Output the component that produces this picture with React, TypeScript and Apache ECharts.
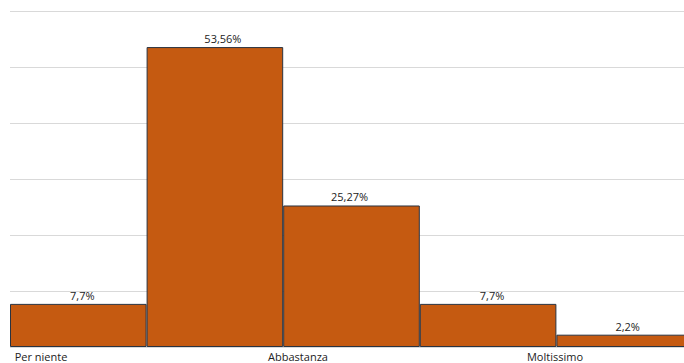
import React, { useEffect, useRef } from "react";
import * as echarts from "echarts";

const barCategories = ["1", "2", "3", "4", "5"];
const barValues = [7.7, 53.56, 25.27, 7.7, 2.2];
const valueLabels = ["7,7%", "53,56%", "25,27%", "7,7%", "2,2%"];
const axisLabels = ["Per niente", "Abbastanza", "Moltissimo"];

const FONT = "'Open Sans', 'Noto Sans', sans-serif";
const labelShift = [4, 8, -2, 4, 3];

export default function App() {
  const ref = useRef<HTMLDivElement>(null);
  useEffect(() => {
    if (!ref.current) return;
    const chart = echarts.init(ref.current, null, { renderer: "svg" });
    chart.setOption({
      animation: false,
      backgroundColor: "#ffffff",
      grid: [
        { left: 10, right: 1, top: 11, bottom: 16 },
        { left: 41, width: 514, top: 11, bottom: 16 },
      ],
      xAxis: [
        {
          type: "category",
          gridIndex: 0,
          data: barCategories,
          axisLine: { show: false },
          axisTick: { show: false },
          axisLabel: { show: false },
        },
        {
          type: "category",
          gridIndex: 1,
          data: axisLabels,
          boundaryGap: false,
          axisLine: { show: false },
          axisTick: { show: false },
          axisLabel: {
            show: true,
            interval: 0,
            margin: 4,
            fontSize: 11,
            color: "#222222",
            fontFamily: FONT,
          },
        },
      ],
      yAxis: [
        {
          type: "value",
          gridIndex: 0,
          min: 0,
          max: 60,
          interval: 10,
          axisLine: { show: false },
          axisTick: { show: false },
          axisLabel: { show: false },
          splitLine: { show: true, lineStyle: { color: "#d9d9d9", width: 1 } },
        },
        {
          type: "value",
          gridIndex: 1,
          min: 0,
          max: 60,
          show: false,
          splitLine: { show: false },
        },
      ],
      series: [
        {
          type: "bar",
          xAxisIndex: 0,
          yAxisIndex: 0,
          data: barValues.map((v, i) => ({
            value: v,
            label: { offset: [labelShift[i], 0] },
          })),
          barCategoryGap: "0%",
          itemStyle: {
            color: "#C55A11",
            borderColor: "#2a3340",
            borderWidth: 1,
          },
          label: {
            show: true,
            position: "top",
            distance: 3,
            fontSize: 11,
            color: "#222222",
            fontFamily: FONT,
            formatter: (p: any) => valueLabels[p.dataIndex],
          },
        },
      ],
    });
    return () => chart.dispose();
  }, []);
  return (
    <div
      style={{
        position: "absolute",
        left: 0,
        top: 0,
        width: 684,
        height: 363,
        overflow: "hidden",
      }}
    >
      <div ref={ref} style={{ width: 694, height: 363 }} />
    </div>
  );
}
